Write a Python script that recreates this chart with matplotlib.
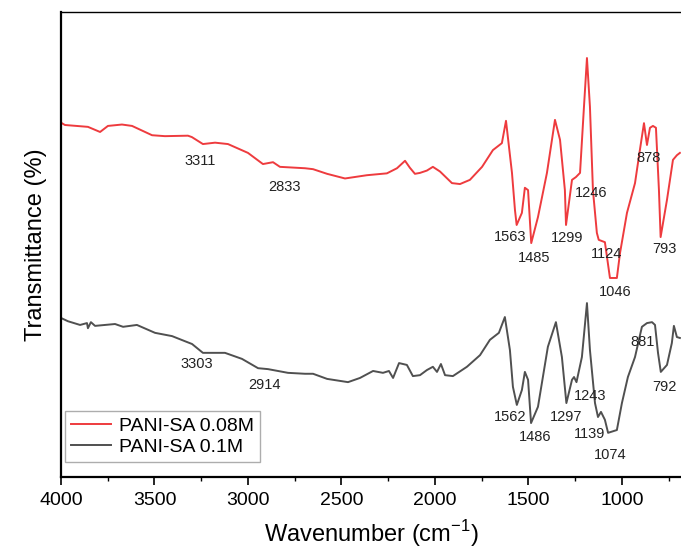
import matplotlib
matplotlib.use('Agg')
import matplotlib.pyplot as plt
from matplotlib.ticker import MultipleLocator

plt.rcParams['font.family'] = ['Liberation Sans', 'DejaVu Sans']

# --- Data (wavenumber in cm-1, transmittance in a.u.) ---
wn_red = [4000, 3979, 3856, 3791, 3749, 3674, 3620, 3513, 3444, 3321, 3300, 3241,
          3176, 3107, 3000, 2920, 2866, 2829, 2695, 2652, 2577, 2481, 2364, 2257,
          2203, 2160, 2134, 2107, 2080, 2043, 2011, 1973, 1909, 1866, 1813, 1748,
          1690, 1642, 1620, 1588, 1572, 1563, 1535, 1519, 1502, 1485, 1449, 1401,
          1358, 1331, 1305, 1299, 1267, 1246, 1224, 1203, 1187, 1171, 1155, 1134,
          1124, 1091, 1064, 1027, 1010, 973, 930, 904, 882, 866, 850, 834, 818,
          802, 793, 759, 727, 706, 690]
t_red = [76.2, 75.7, 75.3, 74.2, 75.5, 75.8, 75.5, 73.5, 73.3, 73.4, 73.1, 71.6,
         71.9, 71.6, 69.7, 67.3, 67.7, 66.7, 66.4, 66.2, 65.2, 64.2, 64.9, 65.3,
         66.4, 68.0, 66.5, 65.2, 65.4, 65.9, 66.7, 65.7, 63.2, 63.0, 63.9, 66.7,
         70.3, 71.8, 76.6, 65.4, 57.4, 54.2, 56.8, 62.2, 61.7, 50.3, 55.9, 65.4,
         76.8, 72.5, 61.7, 54.2, 63.9, 64.5, 65.4, 79.6, 90.1, 79.6, 61.7, 52.5,
         51.0, 50.5, 42.8, 42.8, 48.2, 56.8, 63.2, 70.3, 76.1, 71.4, 75.1, 75.5, 75.1,
         61.7, 51.6, 59.6, 68.2, 69.2, 69.7]

wn_grey = [4000, 3963, 3898, 3861, 3856, 3840, 3818, 3711, 3668, 3594, 3497, 3406,
           3337, 3299, 3241, 3123, 3032, 2946, 2893, 2786, 2695, 2652, 2577, 2465,
           2401, 2331, 2278, 2246, 2224, 2192, 2150, 2118, 2080, 2043, 2011, 1989,
           1968, 1946, 1904, 1829, 1759, 1706, 1658, 1626, 1599, 1583, 1562, 1535,
           1519, 1502, 1486, 1449, 1396, 1353, 1321, 1297, 1267, 1256, 1243, 1214,
           1187, 1171, 1144, 1128, 1112, 1091, 1074, 1027, 1000, 968, 930, 893, 866,
           839, 823, 807, 792, 759, 733, 722, 706, 690]
t_grey = [34.2, 33.5, 32.7, 33.1, 32.0, 33.3, 32.5, 32.9, 32.3, 32.7, 31.0, 30.3,
          29.2, 28.6, 26.7, 26.7, 25.4, 23.4, 23.2, 22.4, 22.2, 22.2, 21.1, 20.4,
          21.3, 22.8, 22.4, 22.8, 21.3, 24.5, 24.1, 21.7, 21.9, 23.0, 23.7, 22.6,
          24.3, 21.9, 21.7, 23.7, 26.2, 29.5, 31.0, 34.4, 27.3, 19.4, 15.5, 18.7,
          22.6, 20.9, 11.6, 15.1, 28.0, 33.3, 25.8, 15.9, 20.9, 21.5, 20.4, 25.8,
          37.4, 27.3, 15.9, 12.9, 14.0, 12.3, 9.5, 10.1, 15.9, 21.5, 25.8, 32.3, 33.1,
          33.3, 32.7, 26.7, 22.6, 24.1, 28.8, 32.5, 30.1, 29.9]

# peak labels: (text, x, y)
labels_red = [('3311', 3257, 68.0), ('2833', 2802, 62.4), ('1563', 1599, 51.6),
              ('1485', 1470, 47.1), ('1299', 1294, 51.4), ('1246', 1166, 61.1),
              ('1124', 1080, 48.0), ('1046', 1037, 39.8), ('878', 855, 68.6),
              ('793', 770, 49.0)]
labels_grey = [('3303', 3273, 24.3), ('2914', 2909, 19.8), ('1562', 1599, 12.9),
               ('1486', 1465, 8.6), ('1297', 1299, 12.9), ('1243', 1171, 17.4),
               ('1139', 1171, 9.2), ('1074', 1064, 4.7), ('881', 887, 29.0),
               ('792', 770, 19.4)]

fig = plt.figure(figsize=(6.81, 5.48), dpi=100)
ax = fig.add_axes([61 / 681, 1 - 477 / 548, 620 / 681, 465 / 548])

ax.plot(wn_red, t_red, color='#ee3b3e', lw=1.4, label='PANI-SA 0.08M')
ax.plot(wn_grey, t_grey, color='#505050', lw=1.4, label='PANI-SA 0.1M')

for txt, x, y in labels_red + labels_grey:
    ax.text(x, y, txt, ha='center', va='center', fontsize=10.5, color='#222222')

ax.set_xlim(4000, 684)
ax.set_ylim(0, 100)
ax.xaxis.set_major_locator(MultipleLocator(500))
ax.xaxis.set_minor_locator(MultipleLocator(250))
ax.tick_params(axis='x', which='major', direction='out', length=6, width=1.2,
               labelsize=14, pad=5)
ax.tick_params(axis='x', which='minor', direction='out', length=3, width=1.0)
ax.set_yticks([])

ax.spines['right'].set_visible(False)
ax.spines['left'].set_linewidth(1.6)
ax.spines['bottom'].set_linewidth(1.6)
ax.spines['top'].set_linewidth(1.0)

ax.set_xlabel('Wavenumber (cm$^{\\mathregular{-1}}$)', fontsize=17, labelpad=6)
ax.set_ylabel('Transmittance (%)', fontsize=17, labelpad=10)

leg = ax.legend(loc='lower left', bbox_to_anchor=(0.006, 0.032), borderaxespad=0,
                fontsize=14, frameon=True, fancybox=False, handlelength=2.1,
                handletextpad=0.4, borderpad=0.3, labelspacing=0.2)
leg.get_frame().set_edgecolor('#999999')
leg.get_frame().set_linewidth(1.0)

fig.savefig('out.png', dpi=100)
